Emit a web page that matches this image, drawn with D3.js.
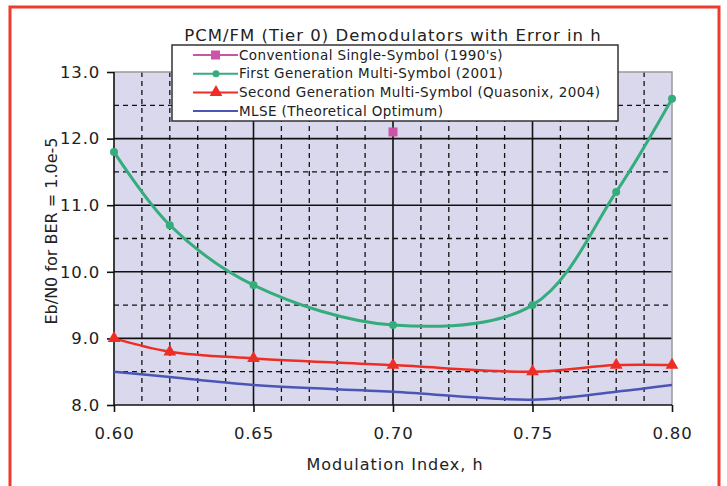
<!DOCTYPE html>
<html lang="en">
<head>
    <meta charset="utf-8">
    <title>PCM/FM Demodulators</title>
    <script type="text/javascript" src="https://d3js.org/d3.v7.min.js"></script>
    <style>
        body { margin: 0; background: #fff; }
        text { font-family: "DejaVu Sans", Verdana, sans-serif; fill: #222; }
    </style>
</head>
<body>
    <div id="viz"></div>

    <script type="text/javascript">
        // data
        const hValues = [0.60, 0.62, 0.65, 0.70, 0.75, 0.78, 0.80];
        const firstGen = [11.8, 10.7, 9.8, 9.2, 9.5, 11.2, 12.6];
        const secondGen = [9.0, 8.8, 8.7, 8.6, 8.5, 8.6, 8.6];
        const mlse = [8.5, 8.42, 8.3, 8.2, 8.08, 8.2, 8.3];
        const conventionalH = [0.70];
        const conventional = [12.1];
        const xTicks = [0.60, 0.65, 0.70, 0.75, 0.80];
        const yTicks = [8, 9, 10, 11, 12, 13];
        const seriesNames = [
            "Conventional Single-Symbol (1990's)",
            "First Generation Multi-Symbol (2001)",
            "Second Generation Multi-Symbol (Quasonix, 2004)",
            "MLSE (Theoretical Optimum)"
        ];

        const width = 727;
        const height = 486;
        const plot = {left: 114, right: 672, top: 72, bottom: 405};

        const svg = d3.select("#viz")
            .append("svg")
            .attr("width", width)
            .attr("height", height);

        const xScale = d3.scaleLinear().domain([0.60, 0.80]).range([plot.left, plot.right]);
        const yScale = d3.scaleLinear().domain([8, 13]).range([plot.bottom, plot.top]);

        // red frame round the figure
        svg.append("path")
            .attr("d", `M10,${height + 5} V7 H719 V${height + 5}`)
            .attr("fill", "none")
            .attr("stroke", "#ee3b2c")
            .attr("stroke-width", 3);

        // plot background
        svg.append("rect")
            .attr("x", plot.left).attr("y", plot.top)
            .attr("width", plot.right - plot.left)
            .attr("height", plot.bottom - plot.top)
            .attr("fill", "#d9d8ed");

        // gridlines
        const minorX = d3.range(61, 80).map(d => d / 100).filter(d => Math.round(d * 100) % 5 !== 0);
        const minorY = d3.range(8.5, 13, 1);
        const grid = svg.append("g").attr("class", "grid");

        grid.selectAll(".vminor").data(minorX).enter().append("line")
            .attr("x1", d => xScale(d)).attr("x2", d => xScale(d))
            .attr("y1", plot.top).attr("y2", plot.bottom)
            .attr("stroke", "#111").attr("stroke-width", 1.3)
            .attr("stroke-dasharray", "5,4");
        grid.selectAll(".hminor").data(minorY).enter().append("line")
            .attr("x1", plot.left).attr("x2", plot.right)
            .attr("y1", d => yScale(d)).attr("y2", d => yScale(d))
            .attr("stroke", "#111").attr("stroke-width", 1.3)
            .attr("stroke-dasharray", "5,4");
        grid.selectAll(".vmajor").data(xTicks.slice(1, -1)).enter().append("line")
            .attr("x1", d => xScale(d)).attr("x2", d => xScale(d))
            .attr("y1", plot.top).attr("y2", plot.bottom)
            .attr("stroke", "#111").attr("stroke-width", 1.6);
        grid.selectAll(".hmajor").data(yTicks.slice(1, -1)).enter().append("line")
            .attr("x1", plot.left).attr("x2", plot.right)
            .attr("y1", d => yScale(d)).attr("y2", d => yScale(d))
            .attr("stroke", "#111").attr("stroke-width", 1.6);

        // top and right edges in grey
        svg.append("path")
            .attr("d", `M${plot.left},${plot.top} H${plot.right} V${plot.bottom}`)
            .attr("fill", "none").attr("stroke", "#999").attr("stroke-width", 1.5);

        // axes
        const xAxis = d3.axisBottom(xScale).tickValues(xTicks).tickFormat(d3.format(".2f"))
            .tickSize(7).tickPadding(15);
        const yAxis = d3.axisLeft(yScale).tickValues(yTicks).tickFormat(d3.format(".1f"))
            .tickSize(7).tickPadding(7);

        const gx = svg.append("g")
            .attr("transform", `translate(0,${plot.bottom})`)
            .call(xAxis);
        const gy = svg.append("g")
            .attr("transform", `translate(${plot.left},0)`)
            .call(yAxis);
        [gx, gy].forEach(g => {
            g.select(".domain").attr("stroke", "#111").attr("stroke-width", 1.6);
            g.selectAll(".tick line").attr("stroke", "#111").attr("stroke-width", 1.6);
            g.selectAll("text")
                .style("font-size", "16.5px")
                .style("letter-spacing", "0.8px")
                .attr("fill", "#222");
        });
        gx.select(".domain").attr("d", `M${plot.left},0H${plot.right}`);
        gy.select(".domain").attr("d", `M0,${plot.bottom}V${plot.top}`);

        // axis titles and chart title
        svg.append("text")
            .attr("x", 395).attr("y", 470)
            .attr("text-anchor", "middle")
            .style("font-size", "16px")
            .style("letter-spacing", "1px")
            .text("Modulation Index, h");
        svg.append("text")
            .attr("transform", `translate(57,231) rotate(-90)`)
            .attr("text-anchor", "middle")
            .style("font-size", "16px")
            .text("Eb/N0 for BER = 1.0e-5");
        svg.append("text")
            .attr("x", 393).attr("y", 41)
            .attr("text-anchor", "middle")
            .style("font-size", "16.5px")
            .style("letter-spacing", "1px")
            .text("PCM/FM (Tier 0) Demodulators with Error in h");

        // series
        const line = (xs, ys) => d3.line()
            .x((d, i) => xScale(xs[i]))
            .y(d => yScale(d))
            .curve(d3.curveCatmullRom.alpha(0.5))(ys);

        svg.append("path").attr("d", line(hValues, mlse))
            .attr("fill", "none").attr("stroke", "#4b55b5").attr("stroke-width", 2.5);

        svg.append("path").attr("d", line(hValues, secondGen))
            .attr("fill", "none").attr("stroke", "#ee2d24").attr("stroke-width", 2.5);
        svg.append("g").selectAll("path").data(secondGen).enter().append("path")
            .attr("d", d3.symbol(d3.symbolTriangle, 70))
            .attr("transform", (d, i) => `translate(${xScale(hValues[i])},${yScale(d)})`)
            .attr("fill", "#ee2d24");

        svg.append("path").attr("d", line(hValues, firstGen))
            .attr("fill", "none").attr("stroke", "#35ac7c").attr("stroke-width", 3);
        svg.append("g").selectAll("circle").data(firstGen).enter().append("circle")
            .attr("cx", (d, i) => xScale(hValues[i]))
            .attr("cy", d => yScale(d))
            .attr("r", 4)
            .attr("fill", "#35ac7c");

        svg.append("g").selectAll("rect").data(conventional).enter().append("rect")
            .attr("x", (d, i) => xScale(conventionalH[i]) - 4.5)
            .attr("y", d => yScale(d) - 4.5)
            .attr("width", 9).attr("height", 9)
            .attr("fill", "#c954a8");

        // legend
        const legend = svg.append("g").attr("transform", "translate(172,45)");
        legend.append("rect")
            .attr("width", 446).attr("height", 76)
            .attr("fill", "#fff").attr("stroke", "#333").attr("stroke-width", 1.5);
        const colors = ["#c954a8", "#35ac7c", "#ee2d24", "#4b55b5"];
        const rows = legend.selectAll(".row").data(seriesNames).enter().append("g")
            .attr("transform", (d, i) => `translate(0,${10 + i * 18.7})`);
        rows.append("line")
            .attr("x1", 21).attr("x2", 66)
            .attr("stroke", (d, i) => colors[i]).attr("stroke-width", 2);
        rows.append("text")
            .attr("x", 67).attr("y", 4.5)
            .style("font-size", "13.5px")
            .style("letter-spacing", "0.4px")
            .text(d => d);
        rows.filter((d, i) => i === 0).append("rect")
            .attr("x", 39).attr("y", -4.5).attr("width", 9).attr("height", 9)
            .attr("fill", colors[0]);
        rows.filter((d, i) => i === 1).append("circle")
            .attr("cx", 44).attr("r", 3.5).attr("fill", colors[1]);
        rows.filter((d, i) => i === 2).append("path")
            .attr("d", d3.symbol(d3.symbolTriangle, 70))
            .attr("transform", "translate(44,0)")
            .attr("fill", colors[2]);
    </script>
</body>
</html>
